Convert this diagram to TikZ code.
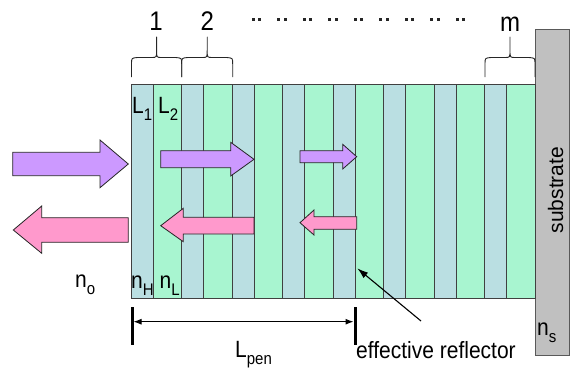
\documentclass[tikz,border=0pt]{standalone}
\usepackage{fontspec}
\setmainfont{Liberation Sans}
\usetikzlibrary{arrows.meta}

\definecolor{hlayer}{HTML}{BADFE2}
\definecolor{llayer}{HTML}{A8F5D0}
\definecolor{subgray}{HTML}{C0C0C0}
\definecolor{beampurple}{HTML}{CC99FF}
\definecolor{beampink}{HTML}{FF99CC}

% subscript used by the layer and index labels
\newcommand\lowidx[1]{\raisebox{-6.5pt}{\fontsize{15}{15}\selectfont #1}}
% slightly tall lettering
\newcommand\tall[1]{\scalebox{1}[1.12]{#1}}

% curly brace over one period of the stack, from x=#1 to x=#2
\newcommand\periodbrace[2]{%
  \pgfmathsetmacro\bm{(#1+#2)/2}%
  \draw[bracestyle] (#1,77) -- (#1,64) .. controls (#1,58) .. (#1+6,57.5)
    -- (\bm-5,57.5) .. controls (\bm,57.5) .. (\bm,50) -- (\bm,37)
    -- (\bm,50) .. controls (\bm,57.5) .. (\bm+5,57.5)
    -- (#2-6,57.5) .. controls (#2,58) .. (#2,64) -- (#2,77);
}

\begin{document}
\begin{tikzpicture}[x=1pt,y=-1pt,
  layerbox/.style={draw=black!75, line width=0.8pt},
  bracestyle/.style={draw=black!85, line width=0.9pt, line join=round},
  beam/.style={draw=black!85, line width=0.8pt, line join=miter},
  lbl/.style={inner sep=0pt, font=\fontsize{21}{24}\selectfont},
  biglbl/.style={inner sep=0pt, font=\fontsize{24}{28}\selectfont},
]
\useasboundingbox (0,0) rectangle (570,368);

% substrate
\draw[fill=subgray, draw=black!65, line width=0.8pt] (535,29) rectangle (569.5,355);

% the multilayer stack: 8 periods of a high-index and a low-index layer
\foreach \i in {0,...,7}{
  \pgfmathsetmacro\xa{131+50.5*\i}
  \pgfmathsetmacro\xb{\xa+22}
  \pgfmathsetmacro\xc{\xa+50.5}
  \draw[layerbox, fill=hlayer] (\xa,84) rectangle (\xb,298);
  \draw[layerbox, fill=llayer] (\xb,84) rectangle (\xc,298);
}

% period braces and their labels
\periodbrace{131.5}{181.7}
\periodbrace{181.7}{232.7}
\periodbrace{485}{535}
\node[biglbl, anchor=base] (p1) at (156,30) {\tall{1}};
\node[biglbl, anchor=base] (p2) at (207.3,30) {\tall{2}};
\node[biglbl, anchor=base] (pm) at (510,31.5) {\tall{m}};

% continuation dots
\foreach \g in {0,...,8}{
  \pgfmathsetmacro\gx{251.7+25.5*\g}
  \fill[black!85] (\gx,18.3) rectangle (\gx+3,21);
  \fill[black!85] (\gx+6.6,18.3) rectangle (\gx+9.6,21);
}

% incident (purple) and reflected (pink) beams
\draw[beam, fill=beampurple] (12.7,152.3) -- (100,152.3) -- (100,140) -- (128.3,164)
  -- (100,187.7) -- (100,175.7) -- (12.7,175.7) -- cycle;
\draw[beam, fill=beampink] (128.3,217.7) -- (41.7,217.7) -- (41.7,206) -- (13.3,230)
  -- (41.7,253.3) -- (41.7,242.3) -- (128.3,242.3) -- cycle;

\draw[beam, fill=beampurple] (160.7,150.7) -- (230.7,150.7) -- (230.7,142.3) -- (254,159.3)
  -- (230.7,176) -- (230.7,167.7) -- (160.7,167.7) -- cycle;
\draw[beam, fill=beampink] (254,217.3) -- (183.3,217.3) -- (183.3,208.3) -- (160.7,225.7)
  -- (183.3,241.7) -- (183.3,234) -- (254,234) -- cycle;

\draw[beam, fill=beampurple] (300,150.7) -- (342.7,150.7) -- (342.7,144.3) -- (356.7,156.7)
  -- (342.7,169) -- (342.7,162.7) -- (300,162.7) -- cycle;
\draw[beam, fill=beampink] (356.7,216.7) -- (314,216.7) -- (314,210) -- (300,222.7)
  -- (314,235) -- (314,229.3) -- (356.7,229.3) -- cycle;

% layer and medium labels
\node[lbl, anchor=base west] (l1) at (132,113) {\tall{L\lowidx{1}}};
\node[lbl, anchor=base west] (l2) at (158,113) {\tall{L\lowidx{2}}};
\node[lbl, anchor=base west] (nh) at (131,288.5) {\tall{n\lowidx{H}}};
\node[lbl, anchor=base west] (nl) at (159.5,288.5) {\tall{n\lowidx{L}}};
\node[lbl, anchor=base west] (no) at (75,287) {\tall{n\lowidx{o}}};
\node[lbl, anchor=base west] (ns) at (537,335) {\tall{n\lowidx{s}}};
\node[lbl, anchor=base, rotate=90] (subs) at (563,190) {substrate};

% penetration depth
\coordinate (pa) at (132,307);
\coordinate (pb) at (132,345);
\coordinate (pc) at (355,307);
\coordinate (pd) at (355,345);
\draw[line width=3pt] (pa) -- (pb);
\draw[line width=3pt] (pc) -- (pd);
\coordinate (da) at (133.5,321.7);
\coordinate (db) at (353.5,321.7);
\draw[line width=1pt, {Latex[length=8pt,width=6pt]}-{Latex[length=8pt,width=6pt]}] (da) -- (db);
\node[lbl, anchor=base west] (lpen) at (235,357.5) {\tall{L\lowidx{pen}}};

% effective reflector pointer
\node[lbl, anchor=base west] (refl) at (356,358.3) {\tall{effective reflector}};
\coordinate (rtail) at (421,321);
\coordinate (rtip) at (357.3,268.3);
\draw[line width=1.1pt, -{Latex[length=11pt,width=7pt]}] (rtail) -- (rtip);
\end{tikzpicture}
\end{document}
